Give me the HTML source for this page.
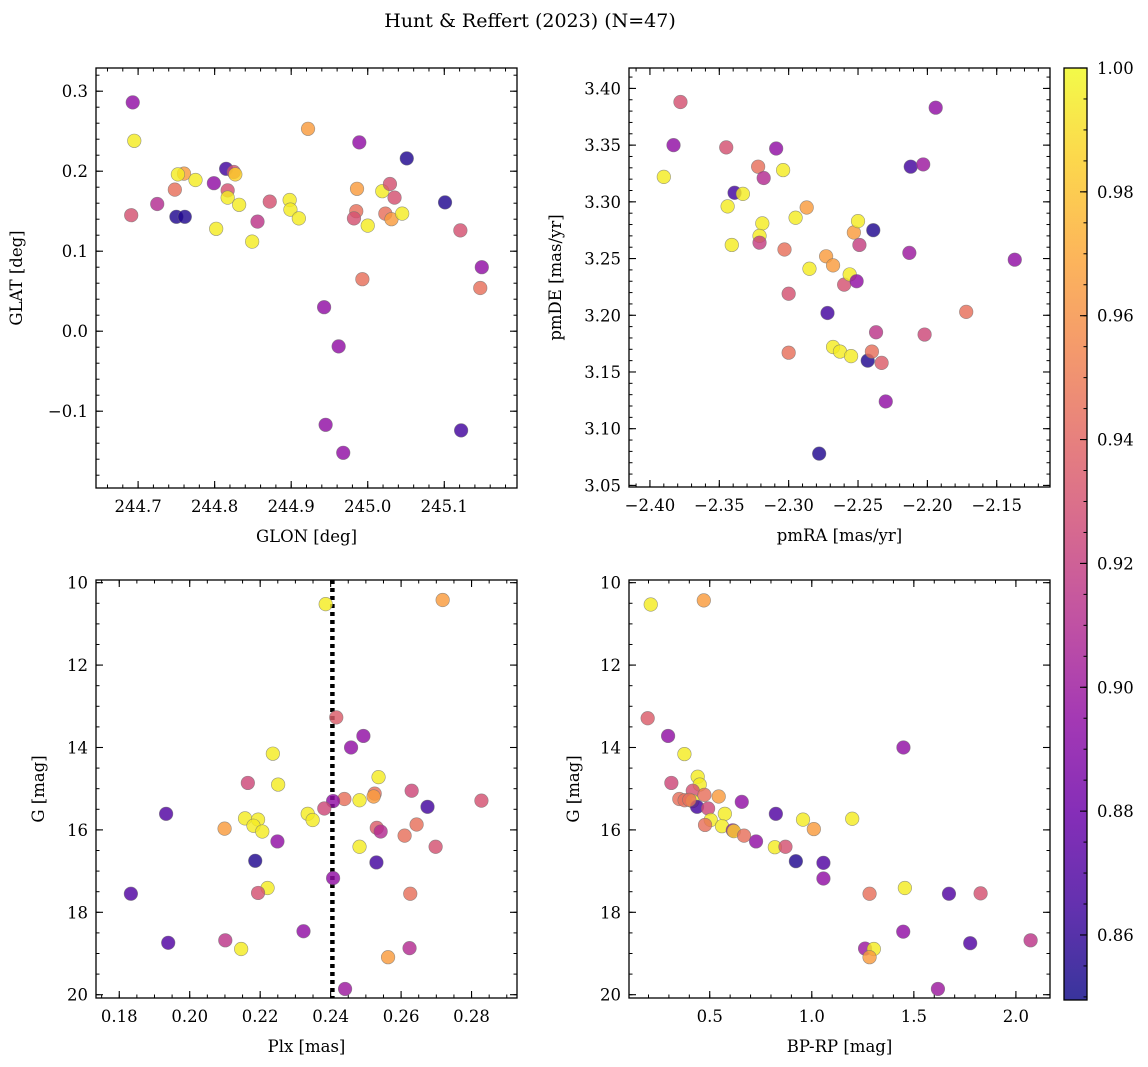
<!DOCTYPE html>
<html><head><meta charset="utf-8"><title>Hunt & Reffert (2023)</title>
<style>
html,body{margin:0;padding:0;background:#fff;}
svg{display:block;font-family:"DejaVu Serif","Liberation Serif",serif;}
</style></head>
<body>
<svg id="fig" width="1148" height="1067" viewBox="0 0 1148 1067" xmlns="http://www.w3.org/2000/svg">
<defs>
<linearGradient id="plasma" x1="0" y1="1" x2="0" y2="0">
<stop offset="0" stop-color="#0d0887"/><stop offset="0.1" stop-color="#41049d"/><stop offset="0.2" stop-color="#6a00a8"/><stop offset="0.3" stop-color="#8f0da4"/><stop offset="0.4" stop-color="#b12a90"/><stop offset="0.5" stop-color="#cc4778"/><stop offset="0.6" stop-color="#e16462"/><stop offset="0.7" stop-color="#f2844b"/><stop offset="0.8" stop-color="#fca636"/><stop offset="0.9" stop-color="#fcce25"/><stop offset="1" stop-color="#f0f921"/>
</linearGradient>
</defs>
<text x="530" y="27" font-size="19" text-anchor="middle">Hunt &amp; Reffert (2023) (N=47)</text>
</svg>
<script>
// ---- data (probability colour values) ----
const glon=[244.693,244.695,244.691,244.725,244.748,244.750,244.761,244.760,244.752,244.775,244.799,244.802,244.815,244.825,244.827,244.817,244.817,244.832,244.849,244.856,244.872,244.898,244.899,244.910,244.922,244.943,244.962,244.945,244.968,244.989,244.986,244.985,244.982,245.000,244.993,245.019,245.029,245.035,245.023,245.031,245.045,245.051,245.101,245.121,245.149,245.147,245.122];
const glat=[0.286,0.238,0.145,0.159,0.177,0.143,0.143,0.197,0.196,0.189,0.185,0.128,0.203,0.199,0.196,0.176,0.167,0.158,0.112,0.137,0.162,0.164,0.152,0.141,0.253,0.030,-0.019,-0.117,-0.152,0.236,0.178,0.150,0.141,0.132,0.065,0.175,0.184,0.167,0.147,0.140,0.147,0.216,0.161,0.126,0.080,0.054,-0.124];
const prob1=[0.895,0.995,0.93,0.91,0.945,0.855,0.855,0.965,0.995,0.995,0.895,0.995,0.865,0.93,0.985,0.93,0.995,0.995,0.995,0.915,0.93,0.995,0.995,0.995,0.965,0.895,0.895,0.895,0.895,0.895,0.965,0.945,0.93,0.995,0.945,0.995,0.93,0.93,0.945,0.965,0.995,0.855,0.855,0.93,0.895,0.945,0.865];

const pmra=[-2.378,-2.383,-2.390,-2.345,-2.339,-2.333,-2.344,-2.341,-2.322,-2.318,-2.309,-2.304,-2.319,-2.321,-2.321,-2.303,-2.300,-2.300,-2.295,-2.287,-2.285,-2.273,-2.268,-2.272,-2.278,-2.268,-2.263,-2.255,-2.260,-2.256,-2.251,-2.253,-2.250,-2.249,-2.239,-2.243,-2.240,-2.233,-2.237,-2.230,-2.213,-2.212,-2.203,-2.202,-2.194,-2.172,-2.137];
const pmde=[3.388,3.350,3.322,3.348,3.308,3.307,3.296,3.262,3.331,3.321,3.347,3.328,3.281,3.270,3.264,3.258,3.219,3.167,3.286,3.295,3.241,3.252,3.244,3.202,3.078,3.172,3.168,3.164,3.227,3.236,3.230,3.273,3.283,3.262,3.275,3.160,3.168,3.158,3.185,3.124,3.255,3.331,3.333,3.183,3.383,3.203,3.249];
const prob2=[0.93,0.895,0.995,0.93,0.865,0.995,0.995,0.995,0.945,0.91,0.895,0.995,0.995,0.995,0.92,0.945,0.93,0.945,0.995,0.965,0.995,0.965,0.965,0.865,0.855,0.995,0.995,0.995,0.93,0.995,0.895,0.965,0.995,0.92,0.855,0.855,0.945,0.935,0.915,0.895,0.9,0.865,0.9,0.925,0.895,0.945,0.895];

const plx=[0.2386,0.2718,0.2416,0.2493,0.2458,0.2236,0.2165,0.2251,0.2536,0.2630,0.2828,0.2439,0.2482,0.2525,0.2522,0.2407,0.2382,0.2675,0.1933,0.2335,0.2349,0.2157,0.2194,0.2181,0.2206,0.2099,0.2531,0.2542,0.2644,0.2610,0.2249,0.2698,0.2482,0.2186,0.2530,0.2407,0.2221,0.2194,0.1833,0.2626,0.2323,0.2101,0.2624,0.1939,0.2146,0.2563,0.2441];
const gmag3=[10.52,10.42,13.27,13.72,14.00,14.15,14.86,14.90,14.72,15.05,15.29,15.25,15.28,15.12,15.19,15.30,15.48,15.44,15.61,15.61,15.76,15.72,15.75,15.90,16.04,15.97,15.95,16.04,15.87,16.14,16.28,16.41,16.41,16.75,16.79,17.17,17.41,17.53,17.55,17.55,18.46,18.68,18.87,18.74,18.89,19.09,19.86];
const prob3=[0.995,0.965,0.935,0.895,0.895,0.995,0.925,0.995,0.995,0.925,0.93,0.945,0.995,0.945,0.965,0.895,0.925,0.865,0.87,0.995,0.995,0.995,0.995,0.995,0.995,0.965,0.935,0.91,0.945,0.945,0.895,0.93,0.995,0.855,0.865,0.895,0.995,0.93,0.87,0.945,0.895,0.915,0.91,0.87,0.995,0.965,0.9];

const bprp=[0.211,0.471,0.196,0.296,0.376,1.449,0.312,0.441,0.451,0.351,0.377,0.417,0.474,0.544,0.415,0.438,0.492,0.657,0.574,0.505,0.477,0.560,0.613,0.618,0.668,0.727,0.824,0.957,1.010,1.198,0.819,0.871,0.922,1.057,1.057,1.283,1.456,1.672,1.827,1.448,1.261,1.304,1.283,1.776,2.072,1.618,0.400];
const gmag4=[10.53,10.43,13.29,13.72,14.16,14.00,14.86,14.71,14.90,15.25,15.28,15.05,15.15,15.19,15.30,15.44,15.48,15.32,15.61,15.76,15.88,15.91,16.01,16.03,16.14,16.28,15.61,15.75,15.98,15.73,16.42,16.41,16.76,16.80,17.18,17.55,17.41,17.55,17.54,18.47,18.88,18.89,19.09,18.75,18.68,19.86,15.27];
const prob4=[0.995,0.965,0.935,0.895,0.995,0.895,0.925,0.995,0.995,0.945,0.945,0.93,0.945,0.965,0.995,0.865,0.925,0.895,0.995,0.995,0.945,0.995,0.895,0.985,0.945,0.895,0.87,0.995,0.965,0.995,0.995,0.93,0.855,0.87,0.895,0.945,0.995,0.87,0.93,0.895,0.9,0.995,0.965,0.87,0.915,0.9,0.945];

const ticks1x=[244.7,244.8,244.9,245.0,245.1], ticks1y=[-0.1,0.0,0.1,0.2,0.3];
const ticks2x=[-2.40,-2.35,-2.30,-2.25,-2.20,-2.15], ticks2y=[3.05,3.10,3.15,3.20,3.25,3.30,3.35,3.40];
const ticks3x=[0.18,0.20,0.22,0.24,0.26,0.28], ticksGy=[10,12,14,16,18,20];
const ticks4x=[0.5,1.0,1.5,2.0];
const ticksCb=[0.86,0.88,0.90,0.92,0.94,0.96,0.98,1.00];
const plxMedian=[0.2405];
const cmin=0.8495, cmax=1.0;

const NS="http://www.w3.org/2000/svg";
const svg=document.getElementById('fig');
const stops=["#0d0887","#41049d","#6a00a8","#8f0da4","#b12a90","#cc4778","#e16462","#f2844b","#fca636","#fcce25","#f0f921"].map(h=>[parseInt(h.slice(1,3),16),parseInt(h.slice(3,5),16),parseInt(h.slice(5,7),16)]);
function cmap(v){let t=(v-cmin)/(cmax-cmin);t=Math.max(0,Math.min(1,t));const p=t*10,i=Math.min(9,Math.floor(p)),f=p-i;const a=stops[i],b=stops[i+1];return `rgb(${Math.round(a[0]+(b[0]-a[0])*f)},${Math.round(a[1]+(b[1]-a[1])*f)},${Math.round(a[2]+(b[2]-a[2])*f)})`;}
function mk(tag,attrs,parent){const e=document.createElementNS(NS,tag);for(const k in attrs)e.setAttribute(k,attrs[k]);(parent||svg).appendChild(e);return e;}
function fmt(v,d){const s=Math.abs(v).toFixed(d);return (v<-1e-9?"\u2212":"")+s;}
const FS=16.5;

function panel(cfg){
  const {x0,x1,y0,y1,xd,yd}=cfg;
  const sx=v=>x0+(v-xd[0])/(xd[1]-xd[0])*(x1-x0);
  const sy=v=>y0+(v-yd[0])/(yd[1]-yd[0])*(y1-y0);
  const g=mk('g',{});
  
  
  const lo=Math.min(xd[0],xd[1]),hi=Math.max(xd[0],xd[1]);
  for(let k=Math.ceil(lo/cfg.xminor-1e-6);k*cfg.xminor<=hi+1e-9;k++){const px=sx(k*cfg.xminor);
    mk('line',{x1:px,x2:px,y1:y1,y2:y1-3.5,stroke:'#000','stroke-width':1},g);mk('line',{x1:px,x2:px,y1:y0,y2:y0+3.5,stroke:'#000','stroke-width':1},g);}
  const ylo=Math.min(yd[0],yd[1]),yhi=Math.max(yd[0],yd[1]);
  for(let k=Math.ceil(ylo/cfg.yminor-1e-6);k*cfg.yminor<=yhi+1e-9;k++){const py=sy(k*cfg.yminor);
    mk('line',{x1:x0,x2:x0+3.5,y1:py,y2:py,stroke:'#000','stroke-width':1},g);mk('line',{x1:x1,x2:x1-3.5,y1:py,y2:py,stroke:'#000','stroke-width':1},g);}
  cfg.xt.forEach(v=>{const px=sx(v);
    mk('line',{x1:px,x2:px,y1:y1,y2:y1-7,stroke:'#000','stroke-width':1.1},g);mk('line',{x1:px,x2:px,y1:y0,y2:y0+7,stroke:'#000','stroke-width':1.1},g);
    const t=mk('text',{x:px,y:y1+24,'font-size':FS,'text-anchor':'middle'},g);t.textContent=fmt(v,cfg.xdec);
    
    });
  cfg.yt.forEach(v=>{const py=sy(v);
    mk('line',{x1:x0,x2:x0+7,y1:py,y2:py,stroke:'#000','stroke-width':1.1},g);mk('line',{x1:x1,x2:x1-7,y1:py,y2:py,stroke:'#000','stroke-width':1.1},g);
    const t=mk('text',{x:x0-8,y:py+6,'font-size':FS,'text-anchor':'end'},g);t.textContent=fmt(v,cfg.ydec);
    
    });
  const xl=mk('text',{x:(x0+x1)/2,y:y1+54,'font-size':FS,'text-anchor':'middle'},g);xl.textContent=cfg.xlabel;
  
  
  const yl=mk('text',{x:0,y:0,'font-size':FS,'text-anchor':'middle',transform:`translate(${cfg.ylx},${(y0+y1)/2}) rotate(-90)`},g);yl.textContent=cfg.ylabel;
  
  
  if(cfg.vline){cfg.vline.forEach(v=>{const l=mk('line',{x1:sx(v),x2:sx(v),y1:y0,y2:y1,stroke:'#000','stroke-width':4.5,'stroke-dasharray':'4 4'},g);
    
    });}
  for(let i=0;i<cfg.xs.length;i++){
    const c=mk('circle',{cx:sx(cfg.xs[i]),cy:sy(cfg.ys[i]),r:6.8,fill:cmap(cfg.cs[i]),'fill-opacity':0.82,stroke:'#707070','stroke-opacity':0.7,'stroke-width':0.6},g);
    
    
  }
  const fr=mk('rect',{x:x0,y:y0,width:x1-x0,height:y1-y0,fill:'none',stroke:'#000','stroke-width':1.3},g);
  
  
}

panel({name:'glon-glat-panel',x0:96,x1:517,y0:68,y1:488,xd:[244.645,245.195],yd:[0.329,-0.196],xt:ticks1x,yt:ticks1y,xminor:0.02,yminor:0.02,xdec:1,ydec:1,xlabel:'GLON [deg]',ylabel:'GLAT [deg]',ylx:22,xs:glon,ys:glat,cs:prob1});
panel({name:'proper-motion-panel',x0:629,x1:1050,y0:68,y1:487,xd:[-2.4151,-2.1116],yd:[3.418,3.0486],xt:ticks2x,yt:ticks2y,xminor:0.01,yminor:0.01,xdec:2,ydec:2,xlabel:'pmRA [mas/yr]',ylabel:'pmDE [mas/yr]',ylx:561,xs:pmra,ys:pmde,cs:prob2});
panel({name:'parallax-mag-panel',x0:96,x1:517,y0:580,y1:998,xd:[0.1734,0.2929],yd:[9.935,20.08],xt:ticks3x,yt:ticksGy,xminor:0.005,yminor:0.5,xdec:2,ydec:0,xlabel:'Plx [mas]',ylabel:'G [mag]',ylx:44,xs:plx,ys:gmag3,cs:prob3,vline:plxMedian});
panel({name:'cmd-panel',x0:629,x1:1050,y0:580,y1:998,xd:[0.1045,2.167],yd:[9.935,20.08],xt:ticks4x,yt:ticksGy,xminor:0.1,yminor:0.5,xdec:1,ydec:0,xlabel:'BP-RP [mag]',ylabel:'G [mag]',ylx:579,xs:bprp,ys:gmag4,cs:prob4});

(function(){
  const x0=1064,x1=1087,y0=68,y1=1000;
  const sy=v=>y1-(v-cmin)/(cmax-cmin)*(y1-y0);
  const g=mk('g',{});
  
  
  mk('rect',{x:x0,y:y0,width:x1-x0,height:y1-y0,fill:'url(#plasma)','fill-opacity':0.82},g);
  for(let k=Math.ceil(cmin/0.005);k*0.005<=cmax+1e-9;k++){const py=sy(k*0.005);mk('line',{x1:x1,x2:x1-3.5,y1:py,y2:py,stroke:'#000','stroke-width':1},g);}
  ticksCb.forEach(v=>{const py=sy(v);mk('line',{x1:x1,x2:x1-7,y1:py,y2:py,stroke:'#000','stroke-width':1.1},g);
    const t=mk('text',{x:x1+10,y:py+6,'font-size':FS},g);t.textContent=v.toFixed(2);
    
    });
  mk('rect',{x:x0,y:y0,width:x1-x0,height:y1-y0,fill:'none',stroke:'#000','stroke-width':1.3},g);
})();
</script>
</body></html>
